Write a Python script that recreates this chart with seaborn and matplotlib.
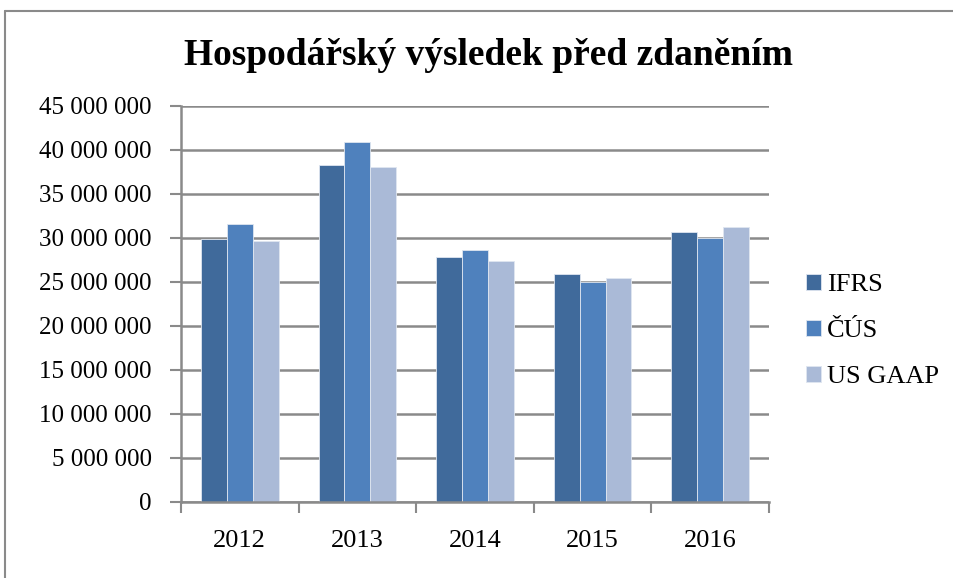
import matplotlib
matplotlib.use('Agg')
import matplotlib.pyplot as plt
from matplotlib.lines import Line2D
from matplotlib.ticker import FuncFormatter, FixedLocator
import seaborn as sb
import pandas as pd
import numpy as np

roky = ['2012', '2013', '2014', '2015', '2016']
ifrs = [29850000, 38300000, 27800000, 25900000, 30650000]
cus = [31600000, 40900000, 28600000, 25000000, 30050000]
us_gaap = [29700000, 38100000, 27350000, 25450000, 31200000]
standardy = ['IFRS', 'ČÚS', 'US GAAP']
barvy = ['#406A9B', '#4F81BD', '#AABAD7']
titulek = 'Hospodářský výsledek před zdaněním'

sb.set_theme(style='white')
plt.rcParams['font.family'] = ['Liberation Serif', 'DejaVu Serif']
plt.rcParams['text.color'] = 'black'
seda = '#8a8a8a'

df = pd.DataFrame({
    'rok': roky * 3,
    'hodnota': ifrs + cus + us_gaap,
    'standard': np.repeat(standardy, len(roky)),
})

fig = plt.figure(figsize=(9.54, 5.78), dpi=100)
ax = fig.add_axes([181/954, 1 - 502/578, (769 - 181)/954, (502 - 106)/578])

sb.barplot(data=df, x='rok', y='hodnota', hue='standard', hue_order=standardy,
           palette=barvy, saturation=1, width=0.66, ax=ax,
           edgecolor='#dfe6f0', linewidth=0.6, errorbar=None)

ax.set_xlim(-0.5, 4.5)
ax.set_ylim(0, 45000000)
ax.set_yticks(np.arange(0, 45000001, 5000000))
ax.yaxis.set_major_formatter(FuncFormatter(lambda v, p: f'{int(v):,}'.replace(',', ' ')))
ax.set_xlabel('')
ax.set_ylabel('')

# mrizka a osy
ax.set_axisbelow(True)
ax.yaxis.grid(True, color=seda, linewidth=1.8)
ax.xaxis.grid(False)
for s in ['top', 'right']:
    ax.spines[s].set_visible(False)
for s in ['left', 'bottom']:
    ax.spines[s].set_color(seda)
    ax.spines[s].set_linewidth(1.8)

ax.tick_params(axis='y', which='major', length=8, width=1.5, color=seda,
               direction='out', pad=13, labelsize=18, labelcolor='black', left=True)
ax.tick_params(axis='x', which='major', length=0, pad=20, labelsize=19, labelcolor='black')
ax.xaxis.set_minor_locator(FixedLocator(np.arange(-0.5, 5, 1)))
ax.tick_params(axis='x', which='minor', length=8, width=1.5, color=seda,
               direction='out', bottom=True)

fig.text(488/954, 1 - 65/578, titulek, ha='center', va='baseline',
         fontsize=27, fontweight='bold', color='black')

handles, labels = ax.get_legend_handles_labels()
ax.legend(handles, labels, loc='center left', bbox_to_anchor=(806/954, 1 - 331/578),
          bbox_transform=fig.transFigure, frameon=False, fontsize=19,
          labelcolor='black', handlelength=0.55, handleheight=0.55,
          handletextpad=0.25, labelspacing=0.9, borderpad=0, borderaxespad=0)

# ramecek kolem grafu
fig.add_artist(Line2D([5/954, 5/954], [0, 1 - 11/578], color=seda, linewidth=1.5,
                      transform=fig.transFigure))
fig.add_artist(Line2D([5/954, 1], [1 - 11/578, 1 - 11/578], color=seda, linewidth=1.5,
                      transform=fig.transFigure))

fig.savefig('out.png', dpi=100, facecolor='white')
